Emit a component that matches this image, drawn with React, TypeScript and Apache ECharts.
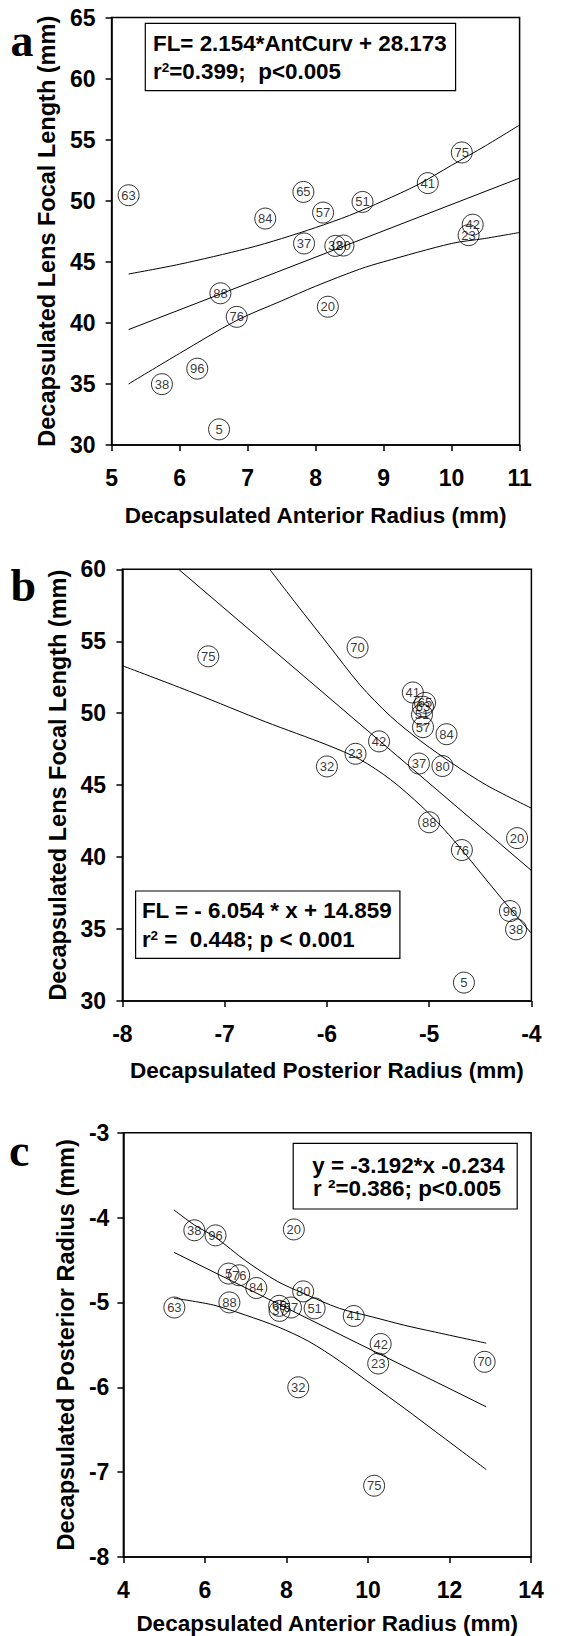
import React, { useEffect, useRef } from "react";
import * as echarts from "echarts";

// ---- data ----
const ids = [63, 65, 84, 57, 51, 41, 75, 37, 32, 80, 42, 23, 88, 76, 20, 96, 38, 5, 70];
const anteriorRadius = [5.25, 7.82, 7.26, 8.11, 8.69, 9.65, 10.15, 7.83, 8.29, 8.41, 10.31, 10.25, 6.6, 6.84, 8.18, 6.26, 5.74, 6.58, 12.86];
const posteriorRadius = [-5.06, -5.04, -4.83, -5.06, -5.07, -5.16, -7.16, -5.1, -6.0, -4.87, -5.49, -5.72, -5.0, -4.68, -4.14, -4.21, -4.15, -4.66, -5.7];
const focalLength = [50.45, 50.72, 48.54, 49.03, 49.9, 51.44, 53.95, 46.5, 46.3, 46.33, 48.04, 47.18, 42.42, 40.49, 41.32, 36.25, 34.98, 31.28, 54.57];

// panel a: focal length vs anterior radius
const fitA = [[5.25, 39.45], [11, 51.85]];
const upperA = [[5.25, 44.0], [6.0, 44.8], [7.0, 46.1], [7.5, 46.9], [8.0, 47.8], [8.5, 48.8], [9.0, 50.0], [9.5, 51.3], [10.0, 52.9], [10.5, 54.5], [11.0, 56.2]];
const lowerA = [[5.25, 35.0], [6.0, 37.5], [6.84, 40.2], [7.5, 41.8], [8.0, 43.0], [8.65, 44.4], [9.0, 45.0], [10.0, 46.5], [10.48, 46.9], [11.0, 47.4]];

// panel b: focal length vs posterior radius
const fitB = [[-7.45, 60], [-4, 39.07]];
const upperB = [[-6.56, 60], [-6.3, 57.6], [-5.99, 54.8], [-5.68, 52.0], [-5.38, 49.8], [-5.07, 48.0], [-4.76, 46.45], [-4.44, 45.0], [-4.0, 43.4]];
const lowerB = [[-8, 53.3], [-7.3, 51.4], [-6.6, 49.4], [-6.0, 47.8], [-5.68, 46.8], [-5.38, 45.4], [-5.07, 43.5], [-4.85, 41.9], [-4.68, 40.5], [-4.3, 37.2], [-4.0, 34.7]];

// panel c: posterior radius vs anterior radius
const fitC = [[5.24, -4.41], [12.9, -6.23]];
const upperC = [[5.24, -3.91], [5.75, -4.09], [6.25, -4.23], [7.0, -4.51], [7.77, -4.75], [8.4, -4.89], [9.3, -5.07], [10.1, -5.17], [10.9, -5.27], [11.65, -5.35], [12.9, -5.48]];
const lowerC = [[5.24, -4.95], [6.2, -5.03], [7.0, -5.15], [7.8, -5.29], [8.55, -5.46], [9.3, -5.69], [10.1, -5.97], [10.9, -6.25], [11.65, -6.52], [12.9, -6.97]];

const SANS = '"Liberation Sans", Arial, Helvetica, sans-serif';
const SERIF = '"Liberation Serif", "Times New Roman", Times, serif';

function xAxisDef(grid: number, min: number, max: number, interval: number, name: string, nameGap: number) {
  return {
    type: "value",
    gridIndex: grid,
    min,
    max,
    interval,
    name,
    nameLocation: "middle",
    nameGap,
    nameTextStyle: { fontSize: 22.5, fontWeight: "bold", fontFamily: SANS, color: "#000" },
    axisLine: { show: true, lineStyle: { color: "#000", width: 1.5 } },
    axisTick: { show: true, inside: false, length: 6, lineStyle: { color: "#000", width: 1.5 } },
    axisLabel: { fontSize: 23, fontWeight: "bold", fontFamily: SANS, color: "#000", margin: 21 },
    splitLine: { show: false },
  };
}

function yAxisDef(grid: number, min: number, max: number, interval: number, name: string, nameGap: number, margin: number) {
  return {
    type: "value",
    gridIndex: grid,
    min,
    max,
    interval,
    name,
    nameLocation: "middle",
    nameGap,
    nameRotate: 90,
    nameTextStyle: { fontSize: 23.5, fontWeight: "bold", fontFamily: SANS, color: "#000" },
    axisLine: { show: true, lineStyle: { color: "#000", width: 1.5 } },
    axisTick: { show: true, inside: false, length: 6, lineStyle: { color: "#000", width: 1.5 } },
    axisLabel: { fontSize: 23, fontWeight: "bold", fontFamily: SANS, color: "#000", margin },
    splitLine: { show: false },
  };
}

function lineSeries(data: number[][], idx: number, smooth: number) {
  return {
    type: "line",
    xAxisIndex: idx,
    yAxisIndex: idx,
    data,
    symbol: "none",
    showSymbol: false,
    smooth,
    silent: true,
    lineStyle: { color: "#000", width: 1 },
    z: 2,
  };
}

function scatterSeries(data: any[], idx: number) {
  return {
    type: "scatter",
    xAxisIndex: idx,
    yAxisIndex: idx,
    data,
    symbol: "circle",
    symbolSize: 21,
    silent: true,
    itemStyle: { color: "rgba(255,255,255,0)", borderColor: "#000", borderWidth: 1 },
    label: {
      show: true,
      position: "inside",
      formatter: (p: any) => String(p.value[2]),
      fontSize: 13,
      color: "#000",
      fontFamily: SANS,
    },
    z: 3,
  };
}

const LF = 22.4;
const legendFont = { fontSize: LF, fontWeight: "bold", fontFamily: SANS, fill: "#000" };
const richSup = {
  n: { fontSize: LF, fontWeight: "bold", fontFamily: SANS, color: "#000" },
  s: { fontSize: 13.5, fontWeight: "bold", fontFamily: SANS, color: "#000", verticalAlign: "top" },
};

export default function App() {
  const ref = useRef<HTMLDivElement>(null);
  useEffect(() => {
    if (!ref.current) return;
    const chart = echarts.init(ref.current, null, { renderer: "svg" });

    const ptsA: any[] = [];
    const ptsB: any[] = [];
    const ptsC: any[] = [];
    ids.forEach((id, i) => {
      if (anteriorRadius[i] <= 11) ptsA.push([anteriorRadius[i], focalLength[i], id]);
      ptsB.push([posteriorRadius[i], focalLength[i], id]);
      ptsC.push([anteriorRadius[i], posteriorRadius[i], id]);
    });

    const gridStyle = { show: true, borderColor: "#000", borderWidth: 1.5, backgroundColor: "rgba(0,0,0,0)", containLabel: false };

    const option: any = {
      animation: false,
      backgroundColor: "#fff",
      grid: [
        { ...gridStyle, left: 111.6, top: 17.5, width: 408, height: 427.5 },
        { ...gridStyle, left: 122.4, top: 569.3, width: 409, height: 431.7 },
        { ...gridStyle, left: 123.4, top: 1132.7, width: 407.7, height: 424.6 },
      ],
      xAxis: [
        xAxisDef(0, 5, 11, 1, "Decapsulated Anterior Radius (mm)", 59),
        xAxisDef(1, -8, -4, 1, "Decapsulated Posterior Radius (mm)", 58),
        xAxisDef(2, 4, 14, 2, "Decapsulated Anterior Radius (mm)", 55),
      ],
      yAxis: [
        yAxisDef(0, 30, 65, 5, "Decapsulated Lens Focal Length (mm)", 49.3, 16),
        yAxisDef(1, 30, 60, 5, "Decapsulated Lens Focal Length (mm)", 49.3, 16.3),
        yAxisDef(2, -8, -3, 1, "Decapsulated Posterior Radius (mm)", 43.8, 14),
      ],
      series: [
        lineSeries(fitA, 0, 0),
        lineSeries(upperA, 0, 0.3),
        lineSeries(lowerA, 0, 0.3),
        scatterSeries(ptsA, 0),
        lineSeries(fitB, 1, 0),
        lineSeries(upperB, 1, 0.3),
        lineSeries(lowerB, 1, 0.3),
        scatterSeries(ptsB, 1),
        lineSeries(fitC, 2, 0),
        lineSeries(upperC, 2, 0.3),
        lineSeries(lowerC, 2, 0.3),
        scatterSeries(ptsC, 2),
      ],
      graphic: [
        // panel letters
        { type: "text", x: 10.4, y: 40, style: { text: "a", fontSize: 46, fontWeight: "bold", fontFamily: SERIF, fill: "#000", verticalAlign: "middle" } },
        { type: "text", x: 10.4, y: 585, style: { text: "b", fontSize: 46, fontWeight: "bold", fontFamily: SERIF, fill: "#000", verticalAlign: "middle" } },
        { type: "text", x: 8.9, y: 1150, style: { text: "c", fontSize: 46, fontWeight: "bold", fontFamily: SERIF, fill: "#000", verticalAlign: "middle" } },
        // legend box a
        { type: "rect", shape: { x: 145.3, y: 23.3, width: 310.3, height: 67.4 }, style: { fill: "#fff", stroke: "#000", lineWidth: 1.2 }, z: 10 },
        { type: "text", x: 153, y: 43.5, z: 11, style: { ...legendFont, text: "FL= 2.154*AntCurv + 28.173", verticalAlign: "middle" } },
        {
          type: "text", x: 153, y: 71.5, z: 11,
          style: { text: "{n|r}{s|2}{n|=0.399;  p<0.005}", verticalAlign: "middle", rich: richSup },
        },
        // legend box b
        { type: "rect", shape: { x: 135.6, y: 891, width: 264.3, height: 67.3 }, style: { fill: "#fff", stroke: "#000", lineWidth: 1.2 }, z: 10 },
        { type: "text", x: 141.9, y: 910, z: 11, style: { ...legendFont, text: "FL = - 6.054 * x + 14.859", verticalAlign: "middle" } },
        {
          type: "text", x: 141.9, y: 939.5, z: 11,
          style: { text: "{n|r}{s|2}{n| =  0.448; p < 0.001}", verticalAlign: "middle", rich: richSup },
        },
        // legend box c
        { type: "rect", shape: { x: 293.2, y: 1143.3, width: 224, height: 65.7 }, style: { fill: "#fff", stroke: "#000", lineWidth: 1.2 }, z: 10 },
        { type: "text", x: 312.3, y: 1165, z: 11, style: { ...legendFont, text: "y = -3.192*x -0.234", verticalAlign: "middle" } },
        { type: "text", x: 313, y: 1188, z: 11, style: { ...legendFont, text: "r \u00b2=0.386; p<0.005", verticalAlign: "middle" } },
      ],
    };

    chart.setOption(option);
    return () => chart.dispose();
  }, []);

  return (
    <div
      ref={ref}
      style={{ position: "absolute", left: 0, top: 0, width: 577, height: 1636, background: "#fff" }}
    />
  );
}
